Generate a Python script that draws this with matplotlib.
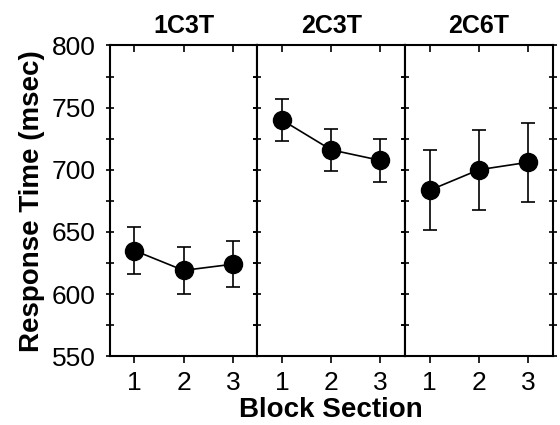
import matplotlib
matplotlib.use("Agg")
import matplotlib.pyplot as plt

plt.rcParams['font.family'] = ['Liberation Sans', 'DejaVu Sans']

conditions = ["1C3T", "2C3T", "2C6T"]
sections = [1, 2, 3]
means = {
    "1C3T": [635, 619, 624],
    "2C3T": [740, 716, 707.5],
    "2C6T": [683.5, 700, 706],
}
errors = {
    "1C3T": [19, 19, 18.5],
    "2C3T": [17, 17, 17],
    "2C6T": [32, 32, 32],
}

fig = plt.figure(figsize=(5.6, 4.25), dpi=100)
gs = fig.add_gridspec(1, 3, left=0.196, right=0.987, top=0.893, bottom=0.162, wspace=0)
axes = [fig.add_subplot(gs[0, i]) for i in range(3)]

for i, (ax, cond) in enumerate(zip(axes, conditions)):
    ax.errorbar(sections, means[cond], yerr=errors[cond], color='black', marker='o',
                markersize=13, linewidth=1.2, elinewidth=1.2, capsize=5, capthick=1.2)
    ax.set_xlim(0.5, 3.5)
    ax.set_ylim(550, 800)
    ax.set_xticks(sections)
    ax.set_yticks([550, 600, 650, 700, 750, 800])
    ax.set_yticks([575, 625, 675, 725, 775], minor=True)
    ax.set_title(cond, fontsize=18, fontweight='bold', pad=9)
    for s in ax.spines.values():
        s.set_linewidth(1.5)
    ax.tick_params(axis='x', which='both', direction='out', length=5, width=1.2,
                   labelsize=19, top=False, pad=6)
    ax.tick_params(axis='y', which='both', direction='inout', length=6, width=1.2,
                   left=True, right=True, labelleft=(i == 0), labelsize=19, pad=7)
    sec = ax.secondary_xaxis('top')
    sec.set_xticks(sections)
    sec.tick_params(axis='x', direction='in', length=5, width=1.2, labeltop=False)
    sec.spines['top'].set_visible(False)

axes[0].set_ylabel("Response Time (msec)", fontsize=20, fontweight='bold', labelpad=5)
fig.supxlabel("Block Section", fontsize=20, fontweight='bold', x=(0.196 + 0.987) / 2, y=0.005)

fig.savefig("out.png", dpi=100)
